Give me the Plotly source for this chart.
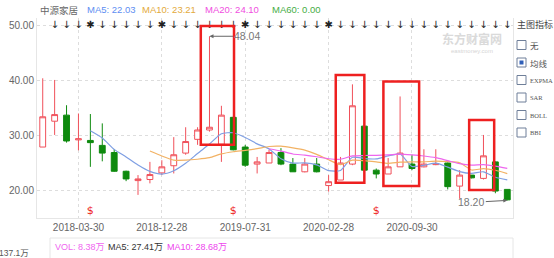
import plotly.graph_objects as go

# ---------------- data ----------------
dates = ["2017-12-29", "2018-01-31", "2018-02-28", "2018-03-30", "2018-04-27",
         "2018-05-31", "2018-06-29", "2018-07-31", "2018-10-31", "2018-11-30",
         "2018-12-28", "2019-01-31", "2019-02-28", "2019-03-29", "2019-04-30",
         "2019-05-31", "2019-06-28", "2019-07-31", "2019-08-30", "2019-09-30",
         "2019-10-31", "2019-11-29", "2019-12-31", "2020-01-23", "2020-02-28",
         "2020-03-31", "2020-04-30", "2020-05-29", "2020-06-30", "2020-07-31",
         "2020-08-31", "2020-09-30", "2020-10-30", "2020-11-30", "2020-12-31",
         "2021-01-29", "2021-02-26", "2021-03-31", "2021-04-30", "2021-05-31"]
opens = [27.9, 32.6, 33.7, 29.2, 29.1, 28.2, 26.9, 23.5, 21.8, 22.0,
         23.2, 24.5, 26.8, 29.3, 31.0, 28.4, 33.3, 27.9, 24.8, 25.0,
         26.9, 24.8, 23.4, 24.8, 20.9, 21.9, 24.8, 31.7, 23.7, 23.0,
         24.3, 24.8, 24.3, 24.7, 25.0, 20.8, 22.8, 22.2, 25.2, 20.2]
highs = [40.4, 40.1, 35.5, 34.0, 33.9, 32.2, 27.5, 23.6, 22.8, 25.2,
         25.5, 29.7, 31.5, 31.5, 48.04, 35.4, 33.4, 28.3, 26.1, 27.4,
         27.7, 25.9, 25.9, 25.9, 22.8, 26.1, 39.3, 31.8, 24.0, 25.9,
         37.1, 26.5, 27.5, 27.5, 25.1, 23.7, 22.8, 30.1, 25.3, 20.2]
lows = [27.9, 30.1, 28.7, 27.3, 24.3, 25.3, 23.4, 21.7, 19.2, 21.3,
        22.8, 23.1, 26.5, 28.3, 30.7, 25.2, 27.3, 24.3, 23.1, 25.0,
        24.6, 23.4, 23.3, 23.3, 19.8, 21.9, 24.6, 23.6, 22.2, 23.0,
        24.3, 23.7, 24.2, 24.6, 20.2, 18.5, 22.2, 22.0, 19.5, 18.2]
closes = [33.4, 33.8, 29.0, 29.4, 28.7, 26.8, 23.5, 22.1, 22.1, 22.9,
          24.3, 26.5, 28.9, 31.0, 31.5, 33.7, 27.4, 24.6, 25.2, 26.9,
          24.8, 23.4, 24.8, 23.4, 21.6, 25.0, 35.4, 23.7, 23.0, 24.3,
          26.8, 24.0, 24.8, 24.9, 20.7, 22.8, 22.3, 26.3, 19.9, 18.3]
ma5 = [None, None, None, None, 30.86, 29.54, 27.48, 26.10, 24.64, 23.48,
       22.98, 23.58, 24.94, 26.72, 28.44, 30.32, 30.50, 29.64, 28.48, 27.56,
       25.78, 24.98, 25.02, 24.66, 23.60, 23.64, 26.04, 25.82, 25.74, 26.28,
       26.64, 24.36, 24.58, 24.96, 24.24, 23.44, 23.10, 23.40, 22.40, 21.92]
ma10 = [None] * 9 + [27.17,
        26.26, 25.53, 25.52, 25.68, 25.96, 26.65, 27.04, 27.29, 27.60, 28.00,
        28.05, 27.74, 27.33, 26.57, 25.58, 24.71, 25.51, 25.42, 25.20, 24.94,
        25.14, 25.20, 25.20, 25.35, 25.26, 25.04, 23.73, 23.99, 23.68, 23.08]
ma20 = [None] * 19 + [27.59,
        27.16, 26.64, 26.43, 26.13, 25.77, 25.68, 26.28, 26.36, 26.40, 26.47,
        26.60, 26.47, 26.27, 25.96, 25.42, 24.88, 24.62, 24.71, 24.44, 24.01]
tick_dates = ["2018-03-30", "2018-12-28", "2019-07-31", "2020-02-28", "2020-09-30"]
price_ticks = [20, 30, 40, 50]
top_signals = [""] + ["↓"] * 39
star_idx = [4, 10, 17, 24]
sell_idx = [4, 16, 28]
high_idx, high_val = 14, 48.04
low_idx, low_val = 39, 18.20
# highlight boxes: (start index, end index, low price, high price)
boxes = [(13.27, 16.06, 28.3, 49.9), (24.6, 27.0, 21.4, 41.0),
         (28.6, 31.6, 20.8, 39.8), (35.8, 37.9, 20.1, 32.8)]
indicator_items = ["无", "均线", "EXPMA", "SAR", "BOLL", "BBI"]

W, H = 554, 258
FONT = "Liberation Sans, Arial, Noto Sans CJK SC, sans-serif"
CJK = "Noto Sans CJK SC, Liberation Sans, sans-serif"
UP = "#f0505a"
DOWN = "#0e8a0e"

def px(x):
    return x / W

def py(y):
    return 1 - y / H

for i in star_idx:
    top_signals[i] = "✱"

fig = go.Figure()
fig.add_trace(go.Candlestick(
    x=dates, open=opens, high=highs, low=lows, close=closes,
    increasing=dict(line=dict(color=UP, width=1), fillcolor="white"),
    decreasing=dict(line=dict(color=DOWN, width=1), fillcolor=DOWN),
    whiskerwidth=0, showlegend=False, hoverinfo="skip"))
for vals, col in [(ma5, "#7f9fe3"), (ma10, "#f2b264"), (ma20, "#ee66ee")]:
    fig.add_trace(go.Scatter(x=dates, y=vals, mode="lines",
                             line=dict(color=col, width=1.2, shape="spline", smoothing=0.6),
                             showlegend=False, hoverinfo="skip"))
fig.add_trace(go.Scatter(x=dates, y=[50] * len(dates), mode="text", text=top_signals,
                         textfont=dict(size=10, color="#222", family="DejaVu Sans"),
                         showlegend=False, hoverinfo="skip"))
fig.add_trace(go.Scatter(x=[dates[i] for i in sell_idx], y=[16.3] * len(sell_idx),
                         mode="text", text=["$"] * len(sell_idx),
                         textfont=dict(size=11, color="#ee2222", family="DejaVu Sans"),
                         showlegend=False, hoverinfo="skip"))

shapes = []
for x0, x1, y0, y1 in boxes:
    shapes.append(dict(type="rect", xref="x", yref="y", x0=x0, x1=x1, y0=y0, y1=y1,
                       line=dict(color="#ee2020", width=2.5)))
# volume panel frame
shapes.append(dict(type="rect", xref="paper", yref="paper", x0=px(50), x1=px(513),
                   y0=py(262), y1=py(238), line=dict(color="#e6e6e6", width=1)))
# indicator check boxes
row_y = [45, 62.5, 80, 97.5, 115, 132.5]
for k, yy in enumerate(row_y):
    shapes.append(dict(type="rect", xref="paper", yref="paper", x0=px(517), x1=px(526),
                       y0=py(yy + 4.5), y1=py(yy - 4.5),
                       line=dict(color="#6f7f99", width=1), fillcolor="white"))
    if k == 1:
        shapes.append(dict(type="rect", xref="paper", yref="paper", x0=px(519.5), x1=px(523.5),
                           y0=py(yy + 2), y1=py(yy - 2), line=dict(width=0),
                           fillcolor="#2f5fb8"))

ann = []
header = [("中源家居", 38, "#666666"), ("MA5: 22.03", 85, "#5d8ef2"),
          ("MA10: 23.21", 140, "#e3aa3c"), ("MA20: 24.10", 203, "#f04ee0"),
          ("MA60: 0.00", 270, "#45ad45")]
for t, x, c in header:
    ann.append(dict(text=t, x=px(x), y=py(10), xref="paper", yref="paper",
                    xanchor="left", yanchor="middle", showarrow=False,
                    font=dict(size=9.5, color=c, family=CJK if t == "中源家居" else FONT)))
vol = [("VOL: 8.38万", 53, "#f066f0"), ("MA5: 27.41万", 106, "#333333"),
       ("MA10: 28.68万", 165, "#ee44ee")]
for t, x, c in vol:
    ann.append(dict(text=t, x=px(x), y=py(246.5), xref="paper", yref="paper",
                    xanchor="left", yanchor="middle", showarrow=False,
                    font=dict(size=9, color=c, family=FONT)))
ann.append(dict(text="137.1万", x=px(30.5), y=py(253), xref="paper", yref="paper",
                xanchor="right", yanchor="middle", showarrow=False,
                font=dict(size=8.5, color="#555", family=FONT)))
ann.append(dict(text="主图指标", x=px(515), y=py(25), xref="paper", yref="paper",
                xanchor="left", yanchor="middle", showarrow=False,
                font=dict(size=9, color="#444", family=CJK)))
for t, yy in zip(indicator_items, row_y):
    ann.append(dict(text=t, x=px(528), y=py(yy), xref="paper", yref="paper",
                    xanchor="left", yanchor="middle", showarrow=False,
                    font=dict(size=6.5 if t not in ("无", "均线") else 8.5, color="#555",
                              family=CJK if t in ("无", "均线") else "Liberation Serif")))
ann.append(dict(text="<b>东方财富网</b>", x=px(472), y=py(38), xref="paper", yref="paper",
                xanchor="center", yanchor="middle", showarrow=False,
                font=dict(size=12, color="#dadada", family=CJK)))
ann.append(dict(text="eastmoney.com", x=px(472), y=py(50.5), xref="paper", yref="paper",
                xanchor="center", yanchor="middle", showarrow=False,
                font=dict(size=6, color="#d5d5d5", family=FONT)))
ann.append(dict(text="48.04", x=dates[high_idx], y=high_val, xref="x", yref="y",
                showarrow=True, ax=38, ay=0, arrowhead=2, arrowsize=0.8, arrowwidth=1,
                arrowcolor="#666", font=dict(size=10.5, color="#777", family=FONT)))
ann.append(dict(text="18.20", x=dates[low_idx], y=low_val, xref="x", yref="y",
                showarrow=True, ax=-36, ay=2, arrowhead=2, arrowsize=0.8, arrowwidth=1,
                arrowcolor="#666", font=dict(size=10.5, color="#777", family=FONT)))

fig.update_layout(
    width=W, height=H, margin=dict(l=0, r=0, t=0, b=0),
    paper_bgcolor="white", plot_bgcolor="white",
    font=dict(family=FONT, size=10, color="#666"),
    shapes=shapes, annotations=ann, showlegend=False,
    xaxis=dict(type="category", domain=[px(37), px(513)], range=[-0.48, 39.48],
               rangeslider=dict(visible=False), tickmode="array", tickvals=tick_dates,
               ticktext=tick_dates, showgrid=True, gridcolor="#dddddd", griddash="3px,3px",
               gridwidth=1, showline=True, linecolor="#e6e6e6", zeroline=False,
               tickfont=dict(size=10, color="#666"), ticks="", fixedrange=True),
    yaxis=dict(domain=[py(218), py(18)], range=[15.0, 51.36], tickmode="array",
               tickvals=price_ticks, tickformat=".2f", showgrid=True, gridcolor="#dddddd",
               griddash="3px,3px", showline=True, linecolor="#e6e6e6", mirror=True,
               zeroline=False, tickfont=dict(size=10, color="#666"), ticks=""),
)
fig.write_html("out.html")
